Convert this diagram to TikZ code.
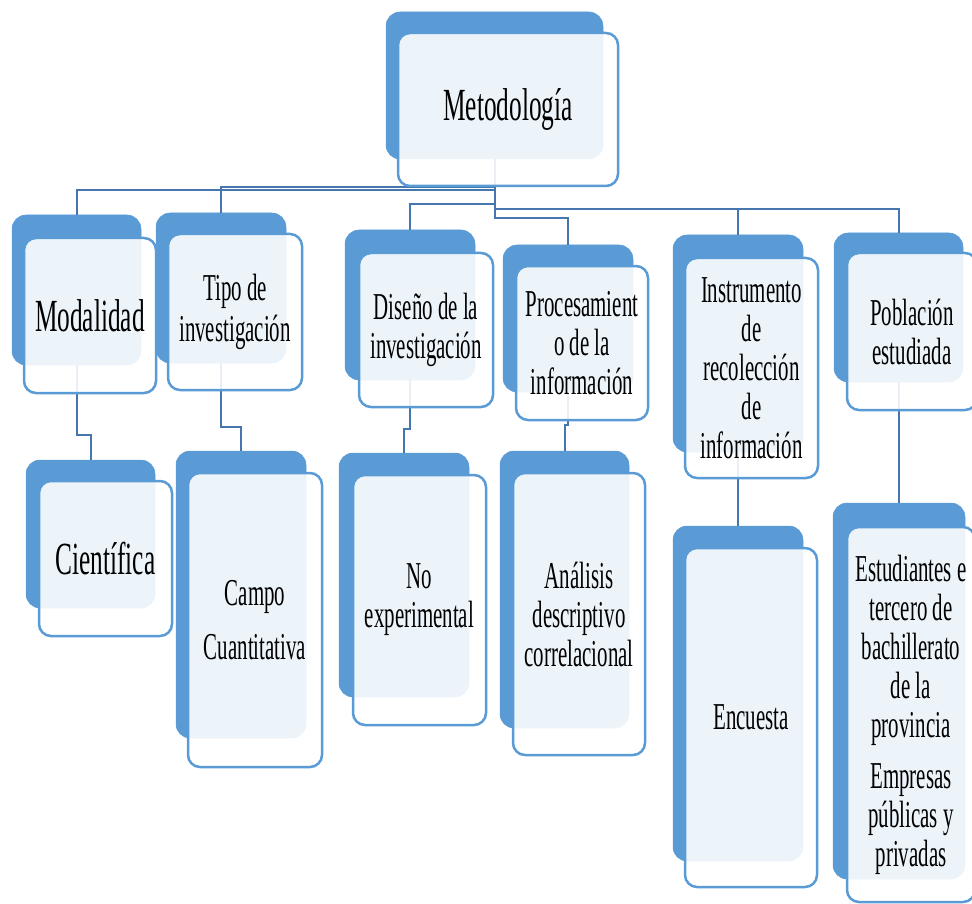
\documentclass[tikz,border=0pt]{standalone}
\usepackage{fontspec}
\setmainfont{Liberation Serif}[FakeStretch=0.55]
\definecolor{bk}{HTML}{5B9BD5}
\definecolor{cn}{HTML}{4676AE}
\tikzset{
  backbox/.style={fill=bk, draw=bk, rounded corners=14pt, inner sep=0pt, line width=0.5pt},
  frontbox/.style={fill=white, fill opacity=0.89, text opacity=1, draw=bk, draw opacity=1,
    line width=2.5pt, rounded corners=12pt, align=center, inner sep=2pt},
  conn/.style={draw=cn, line width=2pt},
  big/.style={font=\fontsize{46}{50}\selectfont},
  med/.style={font=\fontsize{38}{39}\selectfont},
}
\begin{document}
\begin{tikzpicture}[x=1pt,y=-1pt]
\useasboundingbox (0,0) rectangle (972,904);
% back boxes
\node[backbox, minimum width=217pt, minimum height=147pt] (metB) at (494.5,85.5) {};
\node[backbox, minimum width=129pt, minimum height=150pt] (modB) at (76.5,290) {};
\node[backbox, minimum width=130pt, minimum height=150pt] (tipB) at (221,288) {};
\node[backbox, minimum width=130pt, minimum height=150pt] (disB) at (410,305) {};
\node[backbox, minimum width=130pt, minimum height=147pt] (proB) at (568,318.5) {};
\node[backbox, minimum width=130pt, minimum height=217pt] (insB) at (738,343.5) {};
\node[backbox, minimum width=129pt, minimum height=149pt] (pobB) at (898.5,307.5) {};
\node[backbox, minimum width=129pt, minimum height=148pt] (cieB) at (90.5,534) {};
\node[backbox, minimum width=130pt, minimum height=287pt] (camB) at (241,594.5) {};
\node[backbox, minimum width=130pt, minimum height=244pt] (noeB) at (404,575) {};
\node[backbox, minimum width=129pt, minimum height=277pt] (anaB) at (564.5,589.5) {};
\node[backbox, minimum width=130pt, minimum height=335pt] (encB) at (738,693.5) {};
\node[backbox, minimum width=132pt, minimum height=376pt] (estB) at (899,691) {};
% level coordinates
\coordinate (hMod) at (0,190);
\coordinate (hTip) at (0,187);
\coordinate (hDis) at (0,204);
\coordinate (hPro) at (0,218);
\coordinate (hIns) at (0,209);
\coordinate (cMod) at (0,435);
\coordinate (cTip) at (0,427);
\coordinate (cDis) at (0,429);
\coordinate (cPro) at (0,425);
% connectors
\draw[conn] (metB.south) -- (metB.south |- hMod) -| (modB.north);
\draw[conn] (metB.south) -- (metB.south |- hTip) -| (tipB.north);
\draw[conn] (metB.south) -- (metB.south |- hDis) -| (disB.north);
\draw[conn] (metB.south) -- (metB.south |- hPro) -| (proB.north);
\draw[conn] (metB.south) -- (metB.south |- hIns) -| (insB.north);
\draw[conn] (metB.south) -- (metB.south |- hIns) -| (pobB.north);
\draw[conn] (modB.south) -- (modB.south |- cMod) -| (cieB.north);
\draw[conn] (tipB.south) -- (tipB.south |- cTip) -| (camB.north);
\draw[conn] (disB.south) -- (disB.south |- cDis) -| (noeB.north);
\draw[conn] (proB.south) -- (proB.south |- cPro) -| (anaB.north);
\draw[conn] (insB.south) -- (insB.south |- encB.north);
\draw[conn] (pobB.south) -- (pobB.south |- estB.north);
% front boxes
\node[frontbox, big, minimum width=220pt, minimum height=153pt] (met) at (508,109.5) {Metodología};
\node[frontbox, big, minimum width=132pt, minimum height=155pt] (mod) at (90,315.5) {Modalidad};
\node[frontbox, med, minimum width=134pt, minimum height=156pt] (tip) at (235,312) {Tipo de\\[2pt]investigación};
\node[frontbox, med, minimum width=134pt, minimum height=154pt] (dis) at (426,330) {Diseño de la\\investigación};
\node[frontbox, med, minimum width=132pt, minimum height=154pt] (pro) at (582,343) {Procesamient\\o de la\\información};
\node[frontbox, med, minimum width=133pt, minimum height=220pt] (ins) at (751.5,368) {Instrumento\\de\\recolección\\de\\información};
\node[frontbox, med, minimum width=130pt, minimum height=157pt] (pob) at (912,331.5) {Población\\estudiada};
\node[frontbox, big, minimum width=133pt, minimum height=155pt] (cie) at (105.5,558.5) {Científica};
\node[frontbox, med, minimum width=134pt, minimum height=294pt] (cam) at (255,620) {Campo\\[15pt]Cuantitativa};
\node[frontbox, med, minimum width=133pt, minimum height=250pt] (noe) at (419.5,600) {No\\experimental};
\node[frontbox, med, minimum width=132pt, minimum height=282pt] (ana) at (579,614) {Análisis\\descriptivo\\correlacional};
\node[frontbox, med, minimum width=132pt, minimum height=339pt] (enc) at (751,717.5) {Encuesta};
\node[frontbox, med, minimum width=128pt, minimum height=375pt, font=\fontsize{38}{39}\selectfont] (est) at (911,714.5) {Estudiantes e\\tercero de\\bachillerato\\de la\\provincia\\[12pt]Empresas\\públicas y\\privadas};
\end{tikzpicture}
\end{document}
